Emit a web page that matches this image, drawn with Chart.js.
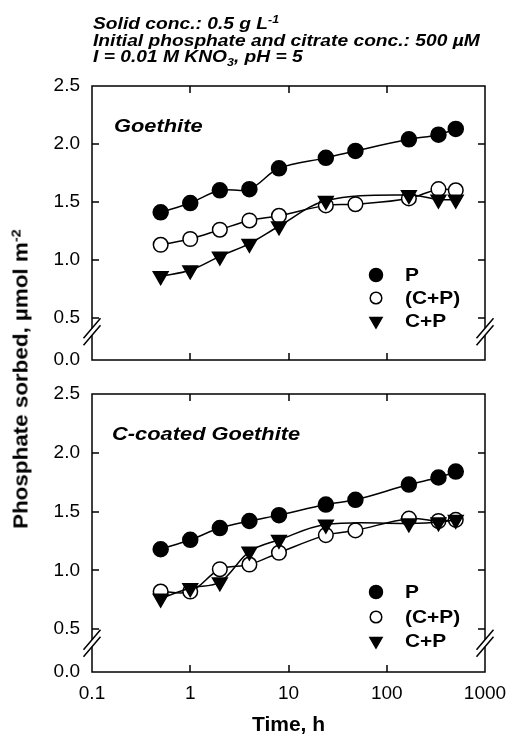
<!DOCTYPE html>
<html>
<head>
<meta charset="utf-8">
<script src="https://cdn.jsdelivr.net/npm/chart.js@4.4.1/dist/chart.umd.min.js"></script>
<style>
html,body{margin:0;padding:0;background:#fff;}
#wrap{position:relative;width:511px;height:738px;overflow:hidden;font-family:"Liberation Sans",Arial,sans-serif;color:#000;}
canvas{position:absolute;left:0;}
.hdr{position:absolute;left:93px;font-weight:bold;font-style:italic;font-size:17px;line-height:17px;white-space:nowrap;transform-origin:0 0;transform:scaleX(1.13);}
.sup{position:relative;top:-6px;font-size:11px;}
.sub{position:relative;top:4px;font-size:11px;}
.panel{position:absolute;font-weight:bold;font-style:italic;font-size:19px;line-height:19px;white-space:nowrap;transform-origin:0 0;transform:scaleX(1.15);}
#ytitle{position:absolute;left:22px;top:379px;font-weight:bold;font-size:20px;line-height:20px;white-space:nowrap;transform:translate(-50%,-50%) rotate(-90deg) scaleX(1.12);}
#ytitle .s2{position:relative;top:-7px;font-size:13px;}
</style>
</head>
<body>
<div id="wrap">
  <canvas id="c1" width="511" height="380" style="top:0px"></canvas>
  <canvas id="c2" width="511" height="358" style="top:380px"></canvas>
  <div class="hdr" style="top:15px">Solid conc.: 0.5 g L<span class="sup">-1</span></div>
  <div class="hdr" style="top:32px">Initial phosphate and citrate conc.: 500 µM</div>
  <div class="hdr" style="top:48px">I = 0.01 M KNO<span class="sub">3</span>, pH = 5</div>
  <div class="panel" style="left:114px;top:116px">Goethite</div>
  <div class="panel" style="left:112px;top:424px">C-coated Goethite</div>
  <div id="ytitle">Phosphate sorbed, µmol m<span class="s2">-2</span></div>
</div>
<script>
// ---- data ----
const times = [0.5, 1, 2, 4, 8, 24, 48, 168, 336, 504];
const seriesNames = ['P', '(C+P)', 'C+P'];

const goethiteP      = [1.41, 1.49, 1.60, 1.61, 1.79, 1.88, 1.94, 2.04, 2.08, 2.13];
const goethiteCPpar  = [1.13, 1.18, 1.26, 1.34, 1.38, 1.47, 1.48, 1.53, 1.61, 1.60];
const goethiteCP     = [0.86, 0.91, 1.03, 1.14, 1.29, 1.51, null, 1.56, 1.52, 1.52];

const coatedP        = [1.18, 1.26, 1.36, 1.42, 1.47, 1.56, 1.60, 1.73, 1.79, 1.84];
const coatedCPpar    = [0.82, 0.82, 1.01, 1.05, 1.15, 1.30, 1.34, 1.44, 1.42, 1.43];
const coatedCP       = [0.76, 0.85, 0.90, 1.16, 1.26, 1.39, null, 1.40, 1.41, 1.43];

const xTicks = [0.1, 1, 10, 100, 1000];
const xTickLabels = ['0.1', '1', '10', '100', '1000'];
const yBreakMin = 0.136;   // broken axis: bottom tick stands for 0.0
const yTicks = [yBreakMin, 0.5, 1.0, 1.5, 2.0, 2.5];
const yTickLabels = ['0.0', '0.5', '1.0', '1.5', '2.0', '2.5'];
const yBreakAt = 0.38;

Chart.defaults.font.family = '"Liberation Sans", Arial, sans-serif';
Chart.defaults.color = '#000';

function zeroPad(s) { s.paddingTop = 0; s.paddingBottom = 0; s.paddingLeft = 0; s.paddingRight = 0; }

const framePlugin = {
  id: 'frame',
  afterDatasetsDraw(chart, args, o) {
    const {ctx, chartArea: a, scales: {x, y}} = chart;
    const TL = 7;
    ctx.save();
    ctx.strokeStyle = '#000';
    ctx.lineWidth = 1.5;
    ctx.strokeRect(a.left, a.top, a.right - a.left, a.bottom - a.top);
    ctx.beginPath();
    yTicks.slice(1, -1).forEach(v => {
      const py = Math.round(y.getPixelForValue(v));
      ctx.moveTo(a.left, py); ctx.lineTo(a.left + TL, py);
      ctx.moveTo(a.right, py); ctx.lineTo(a.right - TL, py);
    });
    xTicks.slice(1, -1).forEach(v => {
      const px = Math.round(x.getPixelForValue(v));
      ctx.moveTo(px, a.top); ctx.lineTo(px, a.top + TL);
      ctx.moveTo(px, a.bottom); ctx.lineTo(px, a.bottom - TL);
    });
    ctx.stroke();
    // axis breaks
    const yb = y.getPixelForValue(yBreakAt);
    [a.left, a.right].forEach(x0 => {
      ctx.fillStyle = '#fff';
      ctx.fillRect(x0 - 2, yb - 3.5, 4, 7);
      ctx.beginPath();
      [-3.5, 3.5].forEach(d => {
        ctx.moveTo(x0 - 8.5, yb + d + 10);
        ctx.lineTo(x0 + 8.5, yb + d - 10);
      });
      ctx.stroke();
    });
    // legend
    const mx = 376, tx = 405;
    o.rows.forEach((cy, i) => {
      ctx.lineWidth = 1.5;
      ctx.strokeStyle = '#000';
      ctx.beginPath();
      if (i === 2) {
        const r = 7;
        ctx.moveTo(mx, cy + r);
        ctx.lineTo(mx - r * 0.866, cy - r / 2);
        ctx.lineTo(mx + r * 0.866, cy - r / 2);
        ctx.closePath();
        ctx.fillStyle = '#000';
      } else {
        ctx.arc(mx, cy, i === 0 ? 6.5 : 5.8, 0, Math.PI * 2);
        ctx.fillStyle = i === 0 ? '#000' : '#fff';
      }
      ctx.fill();
      ctx.stroke();
      ctx.save();
      ctx.translate(tx, cy + 1);
      ctx.scale(1.1, 1);
      ctx.fillStyle = '#000';
      ctx.font = 'bold 19px "Liberation Sans", Arial, sans-serif';
      ctx.textBaseline = 'middle';
      ctx.textAlign = 'left';
      ctx.fillText(seriesNames[i], 0, 0);
      ctx.restore();
    });
    ctx.restore();
  }
};

function makeDatasets(p, par, cp) {
  const base = {
    borderColor: '#000', borderWidth: 1.5, pointBorderColor: '#000',
    pointBorderWidth: 1.5, tension: 0.35, fill: false, spanGaps: true
  };
  return [
    Object.assign({}, base, {label: seriesNames[0], order: 3, data: times.map((t, i) => ({x: t, y: p[i]})),
      pointStyle: 'circle', pointRadius: 7.5, pointBackgroundColor: '#000'}),
    Object.assign({}, base, {label: seriesNames[1], order: 2, data: times.map((t, i) => ({x: t, y: par[i]})),
      pointStyle: 'circle', pointRadius: 7.3, pointBackgroundColor: '#fff'}),
    Object.assign({}, base, {label: seriesNames[2], order: 1, data: times.map((t, i) => ({x: t, y: cp[i]})),
      pointStyle: 'triangle', pointRotation: 180, pointRadius: 8.5, pointBackgroundColor: '#000'})
  ];
}

function makeChart(id, p, par, cp, showX, padding, rows) {
  return new Chart(document.getElementById(id), {
    type: 'line',
    data: {datasets: makeDatasets(p, par, cp)},
    options: {
      responsive: false, animation: false, devicePixelRatio: 1,
      layout: {padding: padding, autoPadding: false},
      plugins: {legend: {display: false}, tooltip: {enabled: false}, frame: {rows: rows}},
      scales: {
        x: {
          type: 'logarithmic', min: 0.1, max: 1000, display: showX,
          afterBuildTicks: s => { s.ticks = xTicks.map(v => ({value: v})); },
          ticks: {callback: (v, i) => xTickLabels[i], autoSkip: false, maxRotation: 0,
                  font: {size: 19}, color: '#000', padding: 10},
          grid: {display: false, drawTicks: false}, border: {display: false},
          title: {display: true, text: 'Time, h', font: {size: 21, weight: 'bold'}, color: '#000',
                  padding: {top: 0, bottom: 0}},
          afterFit: s => { s.height = showX ? 66 : 0; zeroPad(s); }
        },
        y: {
          min: yBreakMin, max: 2.5,
          afterBuildTicks: s => { s.ticks = yTicks.map(v => ({value: v})); },
          ticks: {callback: (v, i) => yTickLabels[i], font: {size: 19}, color: '#000', padding: 12},
          grid: {display: false, drawTicks: false}, border: {display: false},
          afterFit: s => { s.width = 92; zeroPad(s); }
        }
      }
    },
    plugins: [framePlugin]
  });
}

makeChart('c1', goethiteP, goethiteCPpar, goethiteCP, false, {top: 86, right: 26, bottom: 20, left: 0}, [275, 298, 321]);
makeChart('c2', coatedP, coatedCPpar, coatedCP, true, {top: 14, right: 26, bottom: 0, left: 0}, [212, 237, 261]);
</script>
</body>
</html>
